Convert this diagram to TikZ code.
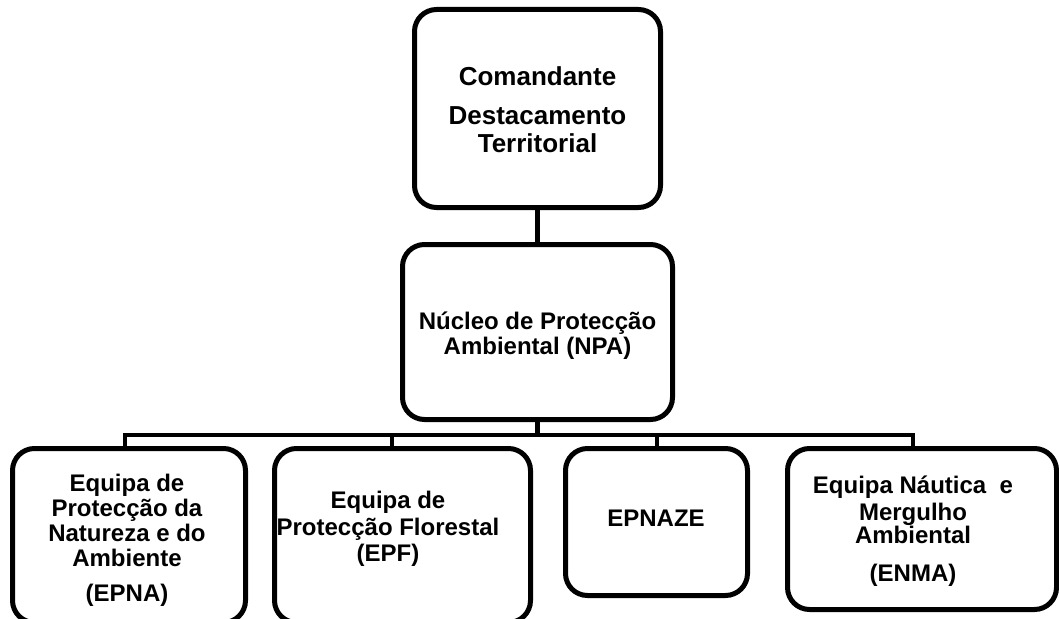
\documentclass[tikz,border=0pt]{standalone}
\usepackage{fontspec}
\setmainfont{Liberation Sans}
\begin{document}
\begin{tikzpicture}[x=1pt,y=-1pt,
  box/.style={draw, line width=5pt, rounded corners=22pt, inner sep=0pt},
  conn/.style={draw, line width=4.2pt, line join=miter},
  big/.style={font=\fontsize{26}{28}\selectfont\bfseries, anchor=base, inner sep=0pt},
  lbl/.style={font=\fontsize{24}{25}\selectfont\bfseries, anchor=base, inner sep=0pt}]
\useasboundingbox[fill=white] (0,0) rectangle (1059,618);
% boxes
\node[box, minimum width=246pt, minimum height=198pt] (top) at (537.5,108.5) {};
\node[box, minimum width=270pt, minimum height=175pt] (npa) at (537.5,332) {};
\node[box, minimum width=233pt, minimum height=174pt] (epna) at (129,535.5) {};
\node[box, minimum width=256pt, minimum height=174pt] (epf) at (402.5,535.5) {};
\node[box, minimum width=182pt, minimum height=147pt] (epnaze) at (656.5,522) {};
\node[box, minimum width=269pt, minimum height=161pt] (enma) at (922,529) {};
% connectors
\coordinate (d1) at (125,435);
\coordinate (d2) at (392,435);
\coordinate (d3) at (657,435);
\coordinate (d4) at (913,435);
\draw[conn] (top.south) -- (npa.north);
\draw[conn] (npa.south) -- (npa.south |- d1);
\draw[conn] (d1 |- epna.north) -- (d1) -- (d4) -- (d4 |- enma.north);
\draw[conn] (d2) -- (d2 |- epf.north);
\draw[conn] (d3) -- (d3 |- epnaze.north);
% texts
\node[big] (ta) at (537.5,85) {Comandante};
\node[big] (tb) at (537.5,124) {Destacamento};
\node[big] (tc) at (537.5,152) {Territorial};
\node[lbl] (na) at (537.5,329) {Núcleo de Protecção};
\node[lbl] (nb) at (537.5,354) {Ambiental (NPA)};
\node[lbl] (ea) at (127,491) {Equipa de};
\node[lbl] (eb) at (127,516) {Protecção da};
\node[lbl] (ec) at (127,541) {Natureza e do};
\node[lbl] (ed) at (127,566) {Ambiente};
\node[lbl] (ee) at (127,601) {(EPNA)};
\node[lbl] (fa) at (388,508) {Equipa de};
\node[lbl] (fb) at (388,535) {Protecção Florestal};
\node[lbl] (fc) at (388,561) {(EPF)};
\node[lbl] (za) at (656,526) {EPNAZE};
\node[lbl] (ma) at (913,493) {Equipa Náutica \ e};
\node[lbl] (mb) at (913,520) {Mergulho};
\node[lbl] (mc) at (913,543) {Ambiental};
\node[lbl] (md) at (913,581) {(ENMA)};
\end{tikzpicture}
\end{document}
